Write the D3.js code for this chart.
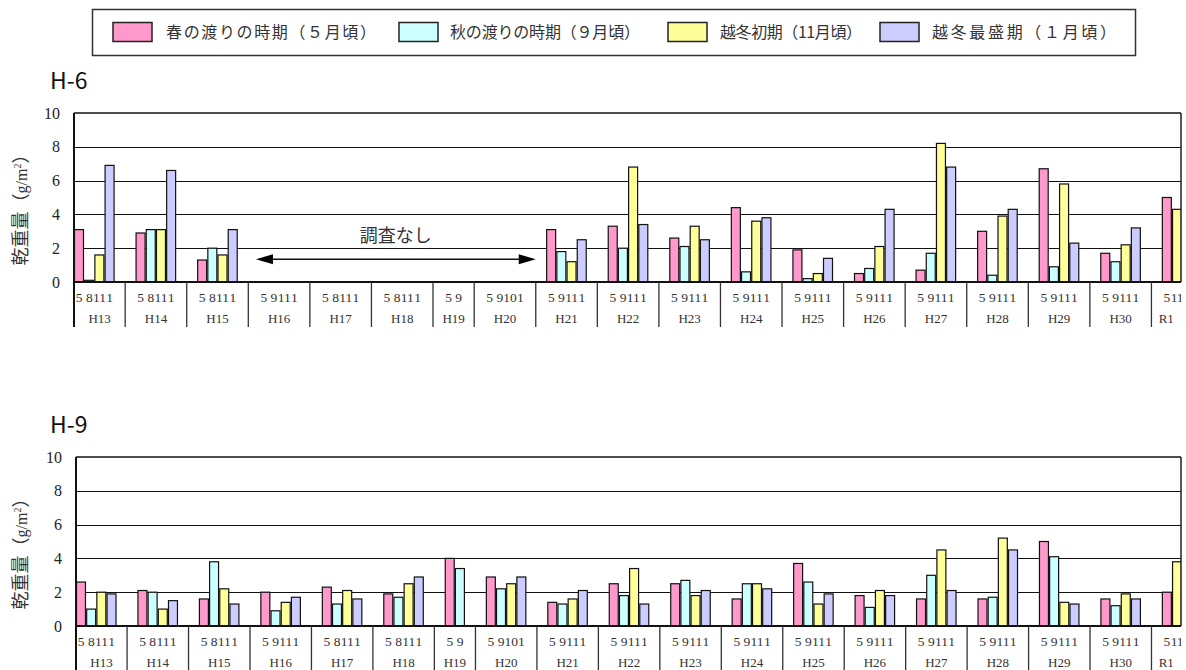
<!DOCTYPE html>
<html>
<head>
<meta charset="utf-8">
<script src="https://cdn.jsdelivr.net/npm/d3@7"></script>
<style>
  body { margin: 0; background: #fff; }
  svg { display: block; }
</style>
</head>
<body>
<svg id="chart" width="1186" height="670"></svg>
<script>
// Survey years and the months sampled in each year
const years = ["H13","H14","H15","H16","H17","H18","H19","H20","H21","H22","H23","H24","H25","H26","H27","H28","H29","H30","R1"];
const monthLabels = [
  ["5","8","11","1"], ["5","8","11","1"], ["5","8","11","1"], ["5","9","11","1"],
  ["5","8","11","1"], ["5","8","11","1"], ["5","9"], ["5","9","10","1"],
  ["5","9","11","1"], ["5","9","11","1"], ["5","9","11","1"], ["5","9","11","1"],
  ["5","9","11","1"], ["5","9","11","1"], ["5","9","11","1"], ["5","9","11","1"],
  ["5","9","11","1"], ["5","9","11","1"], ["5","11"]
];
// Which season series occupies each month slot of a year
const slotSeries = [
  [0,1,2,3],[0,1,2,3],[0,1,2,3],[0,1,2,3],[0,1,2,3],[0,1,2,3],[0,1],[0,1,2,3],
  [0,1,2,3],[0,1,2,3],[0,1,2,3],[0,1,2,3],[0,1,2,3],[0,1,2,3],[0,1,2,3],[0,1,2,3],
  [0,1,2,3],[0,1,2,3],[0,2]
];

const seriesNames = ["春の渡りの時期（５月頃）","秋の渡りの時期（９月頃）","越冬初期（11月頃）","越冬最盛期（１月頃）"];
const seriesColors = ["#FF99CC","#CCFFFF","#FFFF99","#CCCCFF"];
const yTicks = [0,2,4,6,8,10];

// Dry weight (g/m2) at station H-6
const h6Spring      = [3.1,2.9,1.3,null,null,null,null,null,3.1,3.3,2.6,4.4,1.9,0.5,0.7,3.0,6.7,1.7,5.0];
const h6Autumn      = [0.1,3.1,2.0,null,null,null,null,null,1.8,2.0,2.1,0.6,0.2,0.8,1.7,0.4,0.9,1.2,null];
const h6EarlyWinter = [1.6,3.1,1.6,null,null,null,null,null,1.2,6.8,3.3,3.6,0.5,2.1,8.2,3.9,5.8,2.2,4.3];
const h6MidWinter   = [6.9,6.6,3.1,null,null,null,null,null,2.5,3.4,2.5,3.8,1.4,4.3,6.8,4.3,2.3,3.2,null];

// Dry weight (g/m2) at station H-9
const h9Spring      = [2.6,2.1,1.6,2.0,2.3,1.9,4.0,2.9,1.4,2.5,2.5,1.6,3.7,1.8,1.6,1.6,5.0,1.6,2.0];
const h9Autumn      = [1.0,2.0,3.8,0.9,1.3,1.7,3.4,2.2,1.3,1.8,2.7,2.5,2.6,1.1,3.0,1.7,4.1,1.2,null];
const h9EarlyWinter = [2.0,1.0,2.2,1.4,2.1,2.5,null,2.5,1.6,3.4,1.8,2.5,1.3,2.1,4.5,5.2,1.4,1.9,3.8];
const h9MidWinter   = [1.9,1.5,1.3,1.7,1.6,2.9,null,2.9,2.1,1.3,2.1,2.2,1.9,1.8,2.1,4.5,1.3,1.6,null];

const noSurveyLabel = "調査なし";
const noSurveyYears = ["H16","H20"];

const svg = d3.select("#chart");
const CJK = "'Noto Sans CJK JP', 'Noto Sans', sans-serif";
const SERIF = "'Liberation Serif', 'DejaVu Serif', serif";

// ---- Legend ----
const legend = svg.append("g");
legend.append("rect")
  .attr("x", 92.5).attr("y", 9.5).attr("width", 1043).attr("height", 46)
  .attr("fill", "#fff").attr("stroke", "#333").attr("stroke-width", 1.5);
const legendSwatchX = [113, 399, 668, 880];
const legendTextX = [166, 450, 720, 932];
const legendTextW = [210, 190, 142, 184];
seriesNames.forEach((name, i) => {
  legend.append("rect")
    .attr("x", legendSwatchX[i]).attr("y", 22.5).attr("width", 39).attr("height", 19)
    .attr("fill", seriesColors[i]).attr("stroke", "#222").attr("stroke-width", 1.5);
  legend.append("text")
    .attr("x", legendTextX[i]).attr("y", 38)
    .attr("font-family", CJK).attr("font-size", 16).attr("fill", "#333")
    .attr("textLength", legendTextW[i]).attr("lengthAdjust", "spacing")
    .text(name);
});

// ---- Category layout: one unit per month slot, a gap between years ----
const gap = 2.04;
const groupStart = [];
{
  let u = 0;
  monthLabels.forEach(m => { groupStart.push(u); u += m.length + gap; });
}
const visibleUnits = 108.6;

function drawPanel(cfg) {
  const { title, top, bottom, left, right, series, id } = cfg;
  const x = d3.scaleLinear().domain([gap / 2, gap / 2 + visibleUnits]).range([left, right]);
  const y = d3.scaleLinear().domain([0, 10]).range([bottom, top]);
  const slotW = x(1) - x(0);
  const g = svg.append("g");

  g.append("defs").append("clipPath").attr("id", "clip-" + id)
    .append("rect").attr("x", left).attr("y", top - 5).attr("width", right - left).attr("height", bottom - top + 60);

  // Title
  g.append("text")
    .attr("x", 50).attr("y", top - 24)
    .attr("font-family", CJK).attr("font-size", 23).attr("fill", "#111")
    .text(title);

  // Y axis title
  const yt = g.append("text")
    .attr("transform", `translate(27,${(top + bottom) / 2 + 8}) rotate(-90)`)
    .attr("text-anchor", "middle")
    .attr("font-family", CJK).attr("font-size", 18).attr("fill", "#333");
  yt.append("tspan").text("乾重量（");
  yt.append("tspan").attr("font-family", SERIF).attr("font-size", 16).text("g/m");
  yt.append("tspan").attr("font-family", SERIF).attr("font-size", 10).attr("dy", -6).text("2");
  yt.append("tspan").attr("dy", 6).text("）");

  // Horizontal gridlines
  g.selectAll(".grid").data(yTicks.filter(t => t > 0 && t < 10)).join("line")
    .attr("x1", left).attr("x2", right)
    .attr("y1", d => Math.round(y(d)) + 0.5).attr("y2", d => Math.round(y(d)) + 0.5)
    .attr("stroke", "#111").attr("stroke-width", 1.2);

  // Y tick labels
  g.selectAll(".ytick").data(yTicks).join("text")
    .attr("x", left - 14).attr("y", d => y(d))
    .attr("dy", "0.35em").attr("text-anchor", "end")
    .attr("font-family", SERIF).attr("font-size", 16).attr("fill", "#222")
    .text(d => d);

  // Bars
  const bars = [];
  monthLabels.forEach((m, k) => {
    slotSeries[k].forEach((s, j) => {
      const v = series[s][k];
      if (v != null) bars.push({ k, j, s, v });
    });
  });
  g.append("g").attr("clip-path", `url(#clip-${id})`)
    .selectAll("rect").data(bars).join("rect")
    .attr("x", d => x(groupStart[d.k] + gap / 2 + d.j) + 0.5)
    .attr("width", slotW - 1.2)
    .attr("y", d => y(d.v))
    .attr("height", d => y(0) - y(d.v))
    .attr("fill", d => seriesColors[d.s])
    .attr("stroke", "#111").attr("stroke-width", 1.2);

  // Plot frame
  g.append("line").attr("x1", left).attr("x2", right).attr("y1", y(10)).attr("y2", y(10))
    .attr("stroke", "#111").attr("stroke-width", 1.6);
  g.append("line").attr("x1", right).attr("x2", right).attr("y1", y(10)).attr("y2", y(0))
    .attr("stroke", "#111").attr("stroke-width", 1.4);
  g.append("line").attr("x1", left).attr("x2", right).attr("y1", y(0)).attr("y2", y(0))
    .attr("stroke", "#111").attr("stroke-width", 2);
  g.append("line").attr("x1", left).attr("x2", left).attr("y1", y(10)).attr("y2", bottom + 45)
    .attr("stroke", "#111").attr("stroke-width", 2);

  // Year separators below the axis
  const seps = groupStart.slice(1).map(u => x(u)).filter(px => px > left + 1 && px < right - 1);
  g.selectAll(".sep").data(seps).join("line")
    .attr("x1", d => d).attr("x2", d => d)
    .attr("y1", bottom).attr("y2", bottom + 45)
    .attr("stroke", "#333").attr("stroke-width", 1.3);

  // Month labels, one per slot
  const months = [];
  monthLabels.forEach((m, k) => m.forEach((lab, j) => months.push({ k, j, lab })));
  g.append("g").attr("clip-path", `url(#clip-${id})`)
    .selectAll("text").data(months).join("text")
    .attr("x", d => x(groupStart[d.k] + gap / 2 + d.j + 0.5))
    .attr("y", bottom + 15).attr("dy", "0.35em").attr("text-anchor", "middle")
    .attr("font-family", SERIF).attr("font-size", 13.5).attr("fill", "#333")
    .text(d => d.lab);

  // Year labels, centred on the visible part of each year
  g.selectAll(".year").data(years).join("text")
    .attr("x", (d, k) => {
      const a = Math.max(x(groupStart[k]), left);
      const b = Math.min(x(groupStart[k] + monthLabels[k].length + gap), right);
      return (a + b) / 2;
    })
    .attr("y", bottom + 36).attr("dy", "0.35em").attr("text-anchor", "middle")
    .attr("font-family", SERIF).attr("font-size", 13).attr("fill", "#333")
    .text(d => d);

  return { x, y, g };
}

const p6 = drawPanel({
  id: "h6", title: "H-6", top: 113, bottom: 282, left: 74, right: 1181,
  series: [h6Spring, h6Autumn, h6EarlyWinter, h6MidWinter]
});
drawPanel({
  id: "h9", title: "H-9", top: 457, bottom: 626, left: 76, right: 1181,
  series: [h9Spring, h9Autumn, h9EarlyWinter, h9MidWinter]
});

// "No survey" annotation spanning the unsurveyed years at H-6
{
  const { x, y, g } = p6;
  const k0 = years.indexOf(noSurveyYears[0]);
  const k1 = years.indexOf(noSurveyYears[1]);
  const xa = x(groupStart[k0] + 0.75);
  const xb = x(groupStart[k1] + monthLabels[k1].length + gap);
  const ya = y(1.35);
  const head = 17, half = 5;
  g.append("line").attr("x1", xa + head - 2).attr("x2", xb - head + 2).attr("y1", ya).attr("y2", ya)
    .attr("stroke", "#111").attr("stroke-width", 1.5);
  g.append("path").attr("d", `M${xa},${ya}L${xa + head},${ya - half}L${xa + head},${ya + half}Z`).attr("fill", "#000");
  g.append("path").attr("d", `M${xb},${ya}L${xb - head},${ya - half}L${xb - head},${ya + half}Z`).attr("fill", "#000");
  g.append("text")
    .attr("x", (xa + xb) / 2).attr("y", y(2.75)).attr("dy", "0.35em").attr("text-anchor", "middle")
    .attr("font-family", CJK).attr("font-size", 18).attr("fill", "#333")
    .text(noSurveyLabel);
}
</script>
</body>
</html>
